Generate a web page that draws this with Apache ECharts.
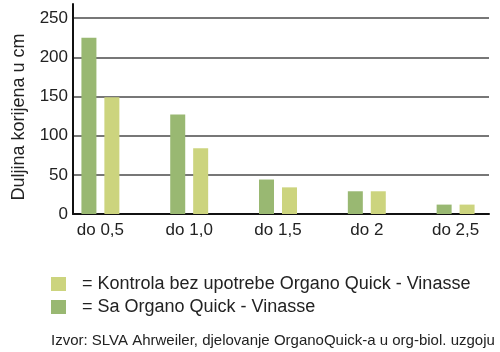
<!DOCTYPE html>
<html>
<head>
<meta charset="utf-8">
<script src="https://cdn.jsdelivr.net/npm/echarts@6/dist/echarts.min.js"></script>
<style>
  html, body { margin: 0; padding: 0; background: #fff; }
  #chart { width: 500px; height: 352px; }
</style>
</head>
<body>
<div id="chart"></div>
<script>
// data
var categories = ['do 0,5', 'do 1,0', 'do 1,5', 'do 2', 'do 2,5'];
var saOrgano = [225, 127, 44, 29, 12];     // tamno zeleno
var kontrola = [149, 84, 34, 29, 12];      // svijetlo zeleno
var yTicks = [0, 50, 100, 150, 200, 250];

var nameSa = 'Sa Organo Quick - Vinasse';
var nameKontrola = 'Kontrola bez upotrebe Organo Quick - Vinasse';
var font = 'Liberation Sans, Arial, sans-serif';

var chart = echarts.init(document.getElementById('chart'));
chart.setOption({
  animation: false,
  color: ['#99b872', '#ccd47e'],
  textStyle: { fontFamily: font },
  title: {
    text: 'Izvor: SLVA Ahrweiler, djelovanje OrganoQuick-a u org-biol. uzgoju',
    left: 51,
    top: 333,
    padding: 0,
    textStyle: { fontSize: 15, fontWeight: 'normal', color: '#222', fontFamily: font }
  },
  legend: {
    orient: 'vertical',
    left: 51,
    top: 275,
    padding: 0,
    itemWidth: 15,
    itemHeight: 14,
    itemGap: 5,
    icon: 'rect',
    data: [nameKontrola, nameSa],
    formatter: function (n) { return '= ' + n; },
    textStyle: { fontSize: 18, color: '#222', fontFamily: font, padding: [0, 0, 0, 11] }
  },
  // grid 0: osi i mreža, grid 1: stupci
  grid: [
    { left: 73, right: 11, top: 4, bottom: 138 },
    { left: 56, right: -6, top: 4, bottom: 138 }
  ],
  xAxis: [
    {
      gridIndex: 0, type: 'value', min: 0, max: 1,
      axisLine: { show: true, lineStyle: { color: '#111', width: 2 } },
      axisTick: { show: false }, axisLabel: { show: false }, splitLine: { show: false }
    },
    {
      gridIndex: 1, type: 'category', data: categories,
      axisLine: { show: false }, axisTick: { show: false },
      axisLabel: { fontSize: 17, color: '#222', margin: 8, fontFamily: font }
    }
  ],
  yAxis: [
    {
      gridIndex: 0, type: 'value', min: 0, max: 268, interval: 50,
      name: 'Duljina korijena u cm',
      nameLocation: 'middle',
      nameGap: 45,
      nameTextStyle: { fontSize: 18, color: '#222', fontFamily: font, padding: [0, 16, 0, 0] },
      axisLine: { show: true, lineStyle: { color: '#111', width: 2 } },
      axisTick: { show: false },
      axisLabel: {
        fontSize: 17, color: '#222', margin: 5, fontFamily: font, showMaxLabel: false,
        formatter: function (v) { return yTicks.indexOf(v) >= 0 ? String(v) : ''; }
      },
      splitLine: { show: true, showMaxLine: false, lineStyle: { color: '#4a4a4a', width: 1.5 } }
    },
    {
      gridIndex: 1, type: 'value', min: 0, max: 268, show: false
    }
  ],
  series: [
    {
      name: nameSa, type: 'bar', xAxisIndex: 1, yAxisIndex: 1,
      barWidth: 15, barGap: '53%', data: saOrgano
    },
    {
      name: nameKontrola, type: 'bar', xAxisIndex: 1, yAxisIndex: 1,
      barWidth: 15, barGap: '53%', data: kontrola
    }
  ]
});
</script>
</body>
</html>
